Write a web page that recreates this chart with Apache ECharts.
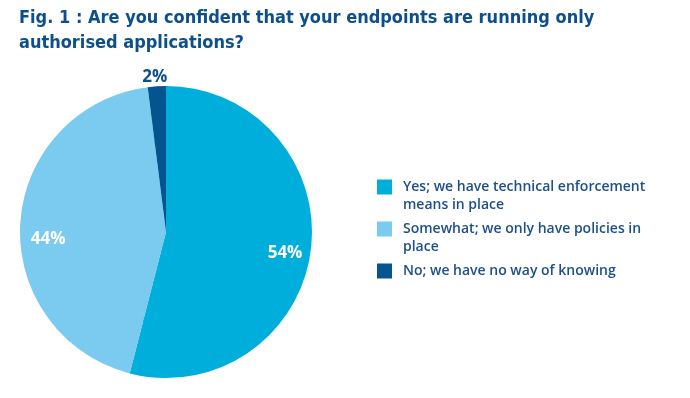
<!DOCTYPE html>
<html>
<head>
<meta charset="utf-8">
<script src="https://cdn.jsdelivr.net/npm/echarts@6/dist/echarts.min.js"></script>
<style>
  html, body { margin: 0; padding: 0; background: #fff; }
  #chart { width: 690px; height: 398px; }
</style>
</head>
<body>
<div id="chart"></div>
<script>
// answers and shares
const answers = [
  'Yes; we have technical enforcement\nmeans in place',
  'Somewhat; we only have policies in\nplace',
  'No; we have no way of knowing'
]
const shares = [54, 44, 2]
const sliceColors = ['#00aedb', '#7bcaf0', '#04548f']

const chart = echarts.init(document.getElementById('chart'))

// label tweaks so the percentages sit where the print has them
const labelFor = i => {
  if (shares[i] < 5) return { position: 'outside', color: '#0b4f8c', offset: [16, 0] }
  if (i === 1) return { offset: [2, 15] }
  return {}
}

let pieData = answers.map((name, i) => ({
  name: name,
  value: shares[i],
  itemStyle: { color: sliceColors[i] },
  label: labelFor(i)
}))

let option = {
  title: {
    text: 'Fig. 1 : Are you confident that your endpoints are running only\nauthorised applications?',
    left: 14,
    top: 1,
    textStyle: {
      fontFamily: "'DejaVu Sans Condensed', 'Liberation Sans Narrow', 'Roboto Condensed', 'Open Sans', sans-serif",
      fontWeight: 'bold',
      fontSize: 18,
      lineHeight: 25,
      color: '#0b4f8c'
    }
  },
  legend: {
    orient: 'vertical',
    left: 372,
    top: 155,
    itemWidth: 27,
    itemHeight: 15,
    itemGap: -12,
    icon: 'path://M0,0H10V10H0Z',
    selectedMode: false,
    data: answers,
    // pad every name to three lines so the square stays level with the first line
    formatter: name => name.indexOf('\n') > -1 ? '\n' + name : '\n' + name + '\n',
    textStyle: {
      fontFamily: "'Open Sans', sans-serif",
      fontWeight: 600,
      fontSize: 14,
      lineHeight: 18,
      color: '#1d4f8b'
    }
  },
  series: [
    {
      // outer ring carries the labels so they sit near the rim
      type: 'pie',
      center: [166, 232],
      radius: [88, 146],
      startAngle: 90,
      clockwise: true,
      silent: true,
      itemStyle: { borderWidth: 0 },
      label: {
        show: true,
        position: 'inside',
        formatter: '{c}%',
        offset: [0, 6],
        fontFamily: "'Open Sans', sans-serif",
        fontWeight: 'bold',
        fontSize: 17,
        color: '#ffffff'
      },
      labelLine: { show: false, length: 9, length2: 0 },
      data: pieData
    },
    {
      type: 'pie',
      center: [166, 232],
      radius: [0, 92],
      startAngle: 90,
      clockwise: true,
      silent: true,
      itemStyle: { borderWidth: 0 },
      label: { show: false },
      labelLine: { show: false },
      data: answers.map((name, i) => ({ name: name, value: shares[i], itemStyle: { color: sliceColors[i] } }))
    }
  ]
}
chart.setOption(option)
</script>
</body>
</html>
